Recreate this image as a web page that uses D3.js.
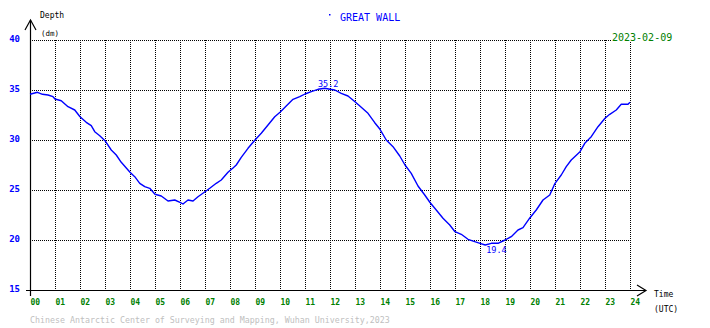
<!DOCTYPE html>
<html><head><meta charset="utf-8">
<script src="https://cdn.jsdelivr.net/npm/d3@7"></script>
<style>
html,body{margin:0;padding:0;background:#fff;}
svg{display:block;}
text{font-family:"DejaVu Sans Mono","Liberation Mono",monospace;}
</style></head>
<body><div id="chart"></div>
<script>
const hours = [0,0.3,0.5,0.72,0.92,1.0,1.25,1.52,1.79,2.0,2.25,2.45,2.59,2.79,3.0,3.25,3.45,3.65,4.0,4.19,4.39,4.59,4.79,5.0,5.25,5.52,5.79,6.0,6.12,6.32,6.52,6.72,7.0,7.19,7.45,7.65,7.92,8.0,8.12,8.25,8.45,8.72,9.0,9.25,9.52,9.79,10.0,10.25,10.52,10.79,11.0,11.25,11.52,11.79,12.0,12.19,12.45,12.72,13.0,13.25,13.52,13.79,14.0,14.25,14.52,14.79,15.0,15.25,15.52,15.79,16.0,16.25,16.52,16.79,17.0,17.25,17.52,17.79,18.0,18.21,18.45,18.72,19.0,19.25,19.52,19.72,20.0,20.25,20.52,20.79,21.0,21.25,21.45,21.65,22.0,22.19,22.45,22.72,23.0,23.19,23.45,23.65,23.92,24.0];
const depth = [34.57,34.77,34.57,34.5,34.33,34.1,33.93,33.33,33.0,32.33,31.77,31.43,30.83,30.43,29.93,29.0,28.5,27.77,26.77,26.33,25.67,25.33,25.17,24.57,24.4,23.9,24.0,23.77,23.6,24.0,23.9,24.33,24.83,25.17,25.67,26.0,26.77,26.95,27.2,27.5,28.27,29.17,30.0,30.67,31.5,32.33,32.77,33.4,34.07,34.33,34.6,34.83,35.07,35.17,35.07,35.0,34.67,34.4,33.83,33.27,32.67,31.73,31.07,30.0,29.33,28.4,27.5,26.67,25.4,24.5,23.75,23.0,22.17,21.5,20.83,20.57,20.07,19.83,19.67,19.5,19.67,19.67,20.0,20.33,21.0,21.23,22.23,23.0,24.0,24.5,25.67,26.5,27.33,28.0,28.83,29.67,30.33,31.33,32.17,32.57,33.0,33.57,33.57,33.77];
const xTicks = ["00","01","02","03","04","05","06","07","08","09","10","11","12","13","14","15","16","17","18","19","20","21","22","23","24"];
const yTicks = [15,20,25,30,35,40];
const extremeHours = [11.93, 18.66];
const extremeValues = [35.2, 19.4];
const extremeLabels = ["35.2", "19.4"];
const title = "GREAT WALL";
const dateLabel = "2023-02-09";
const footer = "Chinese Antarctic Center of Surveying and Mapping, Wuhan University,2023";

const W = 710, H = 328;
const svg = d3.select("#chart").append("svg").attr("width", W).attr("height", H);
const x = d3.scaleLinear().domain([0, 24]).range([30, 630]);
const y = d3.scaleLinear().domain([15, 40]).range([290, 40]);

// grid
const g = svg.append("g").attr("stroke", "#000").attr("stroke-width", 1)
  .attr("stroke-dasharray", "1,1").attr("shape-rendering", "crispEdges");
yTicks.filter(v => v > 15).forEach(v => {
  g.append("line").attr("x1", x(0)).attr("x2", x(24)).attr("y1", y(v) + 0.5).attr("y2", y(v) + 0.5);
});
xTicks.forEach((t, i) => {
  if (i === 0) return;
  g.append("line").attr("x1", x(i) + 0.5).attr("x2", x(i) + 0.5).attr("y1", y(40)).attr("y2", y(15));
});

// axes
const ax = svg.append("g").attr("stroke", "#000").attr("stroke-width", 1.2).attr("fill", "none");
ax.append("line").attr("x1", x(0) + 0.5).attr("x2", x(0) + 0.5).attr("y1", y(15) + 6).attr("y2", 20);
ax.append("path").attr("d", `M${x(0) - 5},30 L${x(0) + 0.5},20 L${x(0) + 6},30`);
ax.append("line").attr("x1", x(0) - 4).attr("x2", x(24) + 16).attr("y1", y(15) + 0.5).attr("y2", y(15) + 0.5);
ax.append("path").attr("d", `M${x(24) + 7},285 L${x(24) + 16},${y(15) + 0.5} L${x(24) + 7},296`);

// y tick labels
svg.append("g").selectAll("text").data(yTicks).join("text")
  .attr("x", 20).attr("y", d => y(d) + 1.5).attr("text-anchor", "end")
  .attr("font-size", 9).attr("font-weight", "bold").attr("fill", "#0000ff").text(d => d);
// x tick labels
svg.append("g").selectAll("text").data(xTicks).join("text")
  .attr("x", (d, i) => x(i) + 0.5).attr("y", 305)
  .attr("font-size", 8).attr("font-weight", "bold").attr("fill", "#008000").text(d => d);

// axis titles
svg.append("text").attr("x", 40).attr("y", 18).attr("font-size", 8).attr("fill", "#000").text("Depth");
svg.append("text").attr("x", 41).attr("y", 36).attr("font-size", 7.5).attr("fill", "#000").text("(dm)");
svg.append("text").attr("x", 654).attr("y", 297).attr("font-size", 8).attr("fill", "#000").text("Time");
svg.append("text").attr("x", 654).attr("y", 312).attr("font-size", 8).attr("fill", "#000").text("(UTC)");

// title
svg.append("rect").attr("x", 329).attr("y", 14).attr("width", 1.5).attr("height", 1.5).attr("fill", "#0000ff");
svg.append("text").attr("x", 340).attr("y", 20.5).attr("font-size", 10).attr("fill", "#0000ff").text(title);
// date
svg.append("rect").attr("x", 611).attr("y", 30).attr("width", 62).attr("height", 12).attr("fill", "#fff");
svg.append("text").attr("x", 612).attr("y", 40.5).attr("font-size", 10).attr("fill", "#008000").text(dateLabel);

// curve
const data = hours.map((h, i) => [h, depth[i]]);
svg.append("path").datum(data)
  .attr("fill", "none").attr("stroke", "#0000ff").attr("stroke-width", 1.4)
  .attr("stroke-linejoin", "round")
  .attr("d", d3.line().x(d => x(d[0])).y(d => y(d[1])));

// extreme labels
svg.append("g").selectAll("text").data(extremeLabels).join("text")
  .attr("x", (d, i) => x(extremeHours[i])).attr("y", (d, i) => i === 0 ? y(extremeValues[i]) - 1 : y(extremeValues[i]) + 6.5)
  .attr("text-anchor", "middle").attr("font-size", 8.5).attr("fill", "#0000ff").text(d => d);

// footer
svg.append("text").attr("x", 30).attr("y", 323).attr("font-size", 8.3).attr("fill", "#c0c0c0").text(footer);
</script></body></html>
